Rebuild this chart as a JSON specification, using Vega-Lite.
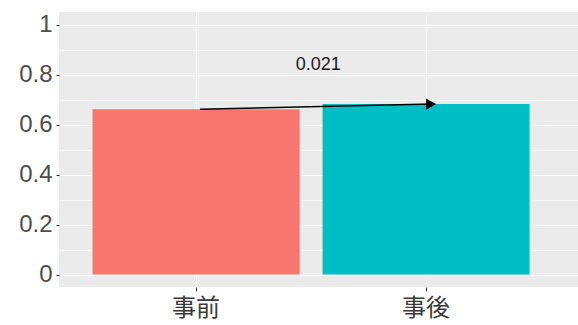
{
  "$schema": "https://vega.github.io/schema/vega-lite/v6.json",
  "width": 519,
  "height": 275,
  "autosize": "none",
  "padding": {"left": 59, "top": 12, "right": 0, "bottom": 38},
  "background": "white",
  "config": {
    "view": {"fill": "#EBEBEB", "stroke": null},
    "axis": {"domain": false, "title": null}
  },
  "datasets": {
    "bars": [
      {"group": "事前", "value": 0.661},
      {"group": "事後", "value": 0.682}
    ],
    "arrow": [
      {"start": "事前", "end": "事後", "startValue": 0.661, "endValue": 0.682, "labelY": 0.838, "label": "0.021"}
    ]
  },
  "resolve": {"axis": {"y": "independent"}},
  "layer": [
    {
      "data": {"name": "bars"},
      "mark": {"type": "bar", "opacity": 0},
      "encoding": {
        "x": {"field": "group", "type": "nominal", "scale": {"domain": ["事前", "事後"], "paddingInner": 0.1, "paddingOuter": 0.178, "align": 0.409},
          "axis": {"labelAngle": 0, "labelFont": "Noto Sans CJK JP", "labelFontSize": 24, "labelColor": "#3A3A3A", "labelPadding": 5, "tickSize": 4, "tickColor": "#333333", "tickWidth": 1.1, "grid": true, "gridColor": "#FFFFFF", "gridWidth": 1.1, "bandPosition": 0.5}},
        "y": {"field": "value", "type": "quantitative", "scale": {"domain": [-0.05, 1.05], "nice": false, "zero": false},
          "axis": {"orient": "left", "values": [0.1, 0.3, 0.5, 0.7, 0.9], "labels": false, "ticks": false, "grid": true, "gridColor": "#FFFFFF", "gridWidth": 0.55}}
      }
    },
    {
      "data": {"name": "bars"},
      "mark": {"type": "bar"},
      "encoding": {
        "x": {"field": "group", "type": "nominal"},
        "y": {"field": "value", "type": "quantitative",
          "axis": {"orient": "left", "values": [0, 0.2, 0.4, 0.6, 0.8, 1], "format": "~g", "labelFont": "Liberation Sans", "labelFontSize": 24, "labelColor": "#4D4D4D", "labelPadding": 4, "tickSize": 3, "tickColor": "#333333", "tickWidth": 1.1, "grid": true, "gridColor": "#FFFFFF", "gridWidth": 1.1}},
        "color": {"field": "group", "type": "nominal", "scale": {"domain": ["事前", "事後"], "range": ["#F8766D", "#00BFC4"]}, "legend": null}
      }
    },
    {
      "data": {"name": "arrow"},
      "mark": {"type": "rule", "color": "#000000", "strokeWidth": 1.6, "xOffset": 4, "x2Offset": 6},
      "encoding": {
        "x": {"field": "start", "type": "nominal"},
        "x2": {"field": "end"},
        "y": {"field": "startValue", "type": "quantitative", "axis": null},
        "y2": {"field": "endValue"}
      }
    },
    {
      "data": {"name": "arrow"},
      "mark": {"type": "point", "shape": "triangle-right", "filled": true, "color": "#000000", "opacity": 1, "size": 130, "xOffset": 5, "angle": -1.2},
      "encoding": {
        "x": {"field": "end", "type": "nominal"},
        "y": {"field": "endValue", "type": "quantitative", "axis": null}
      }
    },
    {
      "data": {"name": "arrow"},
      "mark": {"type": "text", "font": "Liberation Sans", "fontSize": 18, "color": "#1A1A1A", "baseline": "middle", "align": "center"},
      "encoding": {
        "x": {"field": "start", "type": "nominal", "bandPosition": 1.09},
        "y": {"field": "labelY", "type": "quantitative", "axis": null},
        "text": {"field": "label"}
      }
    }
  ]
}
